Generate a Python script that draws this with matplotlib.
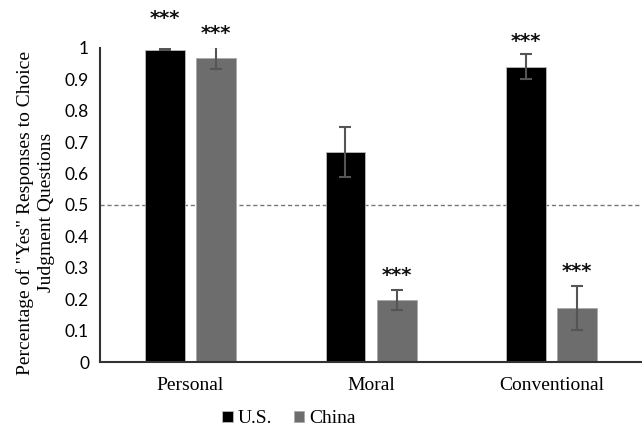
import numpy as np
import matplotlib.pyplot as plt

categories = ['Personal', 'Moral', 'Conventional']
us_vals = [0.995, 0.668, 0.940]
us_err = [0.003, 0.080, 0.040]
china_vals = [0.968, 0.197, 0.172]
china_err = [0.034, 0.032, 0.070]
us_sig = ['***', '', '***']
china_sig = ['***', '***', '***']
yticks = [0, 0.1, 0.2, 0.3, 0.4, 0.5, 0.6, 0.7, 0.8, 0.9, 1]
ytick_labels = ['0', '0.1', '0.2', '0.3', '0.4', '0.5', '0.6', '0.7', '0.8', '0.9', '1']

fig = plt.figure(figsize=(6.42, 4.32), dpi=100)
ax = fig.add_axes([0.156, 0.162, 0.844, 0.727])

x = np.arange(len(categories))
w = 0.22
off = 0.142
ax.bar(x - off, us_vals, w, color='black', edgecolor='#bbbbbb', linewidth=0.6,
       label='U.S.', zorder=2)
ax.bar(x + off, china_vals, w, color='#6d6d6d', edgecolor='#aaaaaa', linewidth=0.6,
       label='China', zorder=2)
ax.errorbar(x - off, us_vals, yerr=us_err, fmt='none', ecolor='#555555',
            elinewidth=1.5, capsize=4, capthick=1.5, zorder=3)
ax.errorbar(x + off, china_vals, yerr=china_err, fmt='none', ecolor='#555555',
            elinewidth=1.5, capsize=4, capthick=1.5, zorder=3)

ax.axhline(0.5, color='#777777', linestyle=(0, (3, 2)), linewidth=1, zorder=1)

star_kw = dict(ha='center', va='center', fontsize=14, family='DejaVu Sans',
               fontweight='bold', color='#111111', clip_on=False)
# first star sits a bit higher than the others in the original
for i, s in enumerate(us_sig):
    if s:
        extra = 0.055 if i == 0 else 0.0
        ax.text(x[i] - off, us_vals[i] + us_err[i] + 0.04 + extra, s, **star_kw)
for i, s in enumerate(china_sig):
    if s:
        ax.text(x[i] + off, china_vals[i] + china_err[i] + 0.045, s, **star_kw)

ax.set_xlim(-0.5, 2.5)
ax.set_ylim(0, 1)
ax.set_yticks(yticks)
ax.set_yticklabels(ytick_labels, family='Lato', fontsize=12.5)
ax.set_xticks(x)
ax.set_xticklabels(categories, family='Liberation Serif', fontsize=14)
ax.tick_params(length=0, pad=8)
ax.tick_params(axis='x', pad=11)

for side in ['top', 'right']:
    ax.spines[side].set_visible(False)
for side in ['left', 'bottom']:
    ax.spines[side].set_color('#333333')
    ax.spines[side].set_linewidth(1.5)

ax.set_ylabel('Percentage of "Yes" Responses to Choice\nJudgment Questions',
              family='Liberation Serif', fontsize=14, linespacing=1.3)
ax.yaxis.set_label_coords(-0.083, 0.475)

fig.legend(loc='lower center', bbox_to_anchor=(0.45, -0.03), ncol=2, frameon=False,
           prop={'family': 'Liberation Serif', 'size': 14},
           handlelength=0.55, handleheight=0.55, handletextpad=0.25, columnspacing=1.1)

fig.savefig('out.png', dpi=100)
